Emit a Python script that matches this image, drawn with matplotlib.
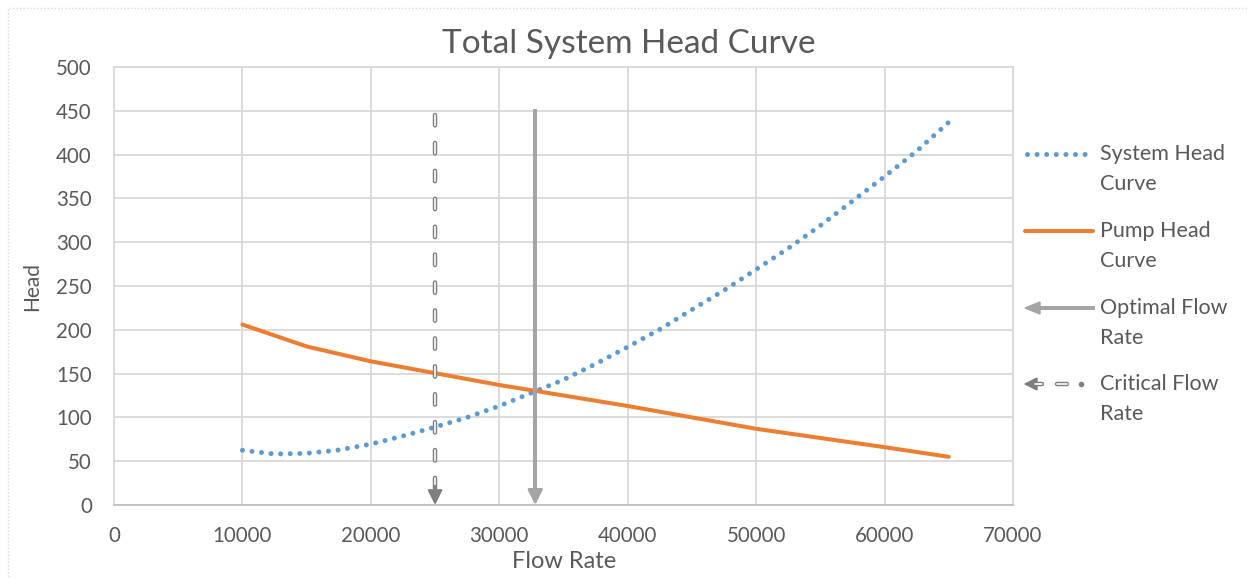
import matplotlib
matplotlib.use("Agg")
import matplotlib.pyplot as plt
from matplotlib.lines import Line2D
from matplotlib.patches import Rectangle, Polygon

plt.rcParams['font.family'] = ['Lato', 'DejaVu Sans']
plt.rcParams['lines.scale_dashes'] = False

# ---- data ----
sys_flow = [10000, 12500, 15000, 17500, 20000, 22500, 25000, 27500, 30000, 32500,
            35000, 37500, 40000, 42500, 45000, 47500, 50000, 52500, 55000, 57500,
            60000, 62500, 65000]
sys_head = [62.5, 58.2, 59, 62.8, 69.5, 78.8, 89, 100, 113, 128,
            143, 161, 180.5, 200.5, 223, 245, 269, 293, 319, 347,
            375, 404, 437]
pump_flow = [10000, 15000, 20000, 30000, 40000, 50000, 60000, 65000]
pump_head = [206, 181, 164, 137, 113, 87, 66, 55]
optimal_flow = 32800
optimal_top = 450
critical_flow = 25000
critical_top = 445
x_ticks = [0, 10000, 20000, 30000, 40000, 50000, 60000, 70000]
y_ticks = [0, 50, 100, 150, 200, 250, 300, 350, 400, 450, 500]
series_names = ["System Head\nCurve", "Pump Head\nCurve", "Optimal Flow\nRate", "Critical Flow\nRate"]

W, H = 1249, 579
TXT = '#595959'
GRID = '#D9D9D9'
BLUE = '#5B9BD5'
ORANGE = '#ED7D31'
GRAY = '#A5A5A5'
DGRAY = '#7F7F7F'

fig = plt.figure(figsize=(W / 100, H / 100), dpi=100)
def fx(px): return px / W
def fy(py): return 1 - py / H

ax = fig.add_axes([fx(114), fy(505), fx(1013) - fx(114), fy(67) - fy(505)])
ax.set_xlim(0, 70000)
ax.set_ylim(0, 500)
ax.set_xticks(x_ticks)
ax.set_yticks(y_ticks)
ax.grid(True, color=GRID, linewidth=1.3)
ax.set_axisbelow(True)
for s in ax.spines.values():
    s.set_color(GRID)
    s.set_linewidth(1.3)
ax.spines['bottom'].set_color('#BFBFBF')
ax.tick_params(length=0, labelsize=14.8, labelcolor=TXT)
ax.tick_params(axis='x', pad=15)
ax.tick_params(axis='y', pad=16)

# series
ax.plot(sys_flow, sys_head, color=BLUE, linewidth=3.6,
        linestyle=(0, (0.01, 6.9)), dash_capstyle='round', zorder=3)
ax.plot(pump_flow, pump_head, color=ORANGE, linewidth=2.9,
        solid_capstyle='round', solid_joinstyle='round', zorder=4)

# optimal flow arrow
ax.plot([optimal_flow, optimal_flow], [optimal_top, 12], color=GRAY, linewidth=2.9, zorder=5)
ax.annotate('', xy=(optimal_flow, 0), xytext=(optimal_flow, 25),
            arrowprops=dict(arrowstyle='-|>,head_length=0.9,head_width=0.45',
                            color=GRAY, lw=2.0, shrinkA=0, shrinkB=0), zorder=5)

# critical flow arrow (hollow dashes)
ax.plot([critical_flow, critical_flow], [critical_top, 10], color=DGRAY, linewidth=3.2,
        linestyle=(0, (7.5, 12.6)), dash_capstyle='round', zorder=5)
ax.plot([critical_flow, critical_flow], [critical_top, 10], color='white', linewidth=1.2,
        linestyle=(0, (7.5, 12.6)), dash_capstyle='round', zorder=6)
ax.annotate('', xy=(critical_flow, 0), xytext=(critical_flow, 22),
            arrowprops=dict(arrowstyle='-|>,head_length=0.9,head_width=0.45',
                            color=DGRAY, lw=1.5, shrinkA=0, shrinkB=0), zorder=6)

# titles / labels
fig.text(fx(629), fy(44), "Total System Head Curve", ha='center', va='center',
         fontsize=24, color=TXT)
fig.text(fx(564), fy(561), "Flow Rate", ha='center', va='center', fontsize=17, color=TXT)
fig.text(fx(32), fy(286), "Head", ha='center', va='center', rotation=90,
         fontsize=15, color=TXT)

# ---- legend (manual) ----
leg_y = [154, 231, 308, 384]
x0, x1 = 1025, 1093
tx = 1100
fig.add_artist(Line2D([fx(x0 + 2), fx(x1)], [fy(leg_y[0])] * 2, color=BLUE, linewidth=3.6,
                      linestyle=(0, (0.01, 6.9)), dash_capstyle='round'))
fig.add_artist(Line2D([fx(x0), fx(x1)], [fy(leg_y[1])] * 2, color=ORANGE, linewidth=2.9,
                      solid_capstyle='round'))
fig.add_artist(Line2D([fx(x0 + 10), fx(x1)], [fy(leg_y[2])] * 2, color=GRAY, linewidth=2.9))
fig.add_artist(Polygon([[fx(x0), fy(leg_y[2])], [fx(x0 + 15), fy(leg_y[2] - 6)],
                        [fx(x0 + 15), fy(leg_y[2] + 6)]], closed=True, color=GRAY))
# critical legend: arrow head, hollow dash, dot
fig.add_artist(Polygon([[fx(x0), fy(leg_y[3])], [fx(x0 + 12), fy(leg_y[3] - 6)],
                        [fx(x0 + 12), fy(leg_y[3] + 6)]], closed=True, color=DGRAY))
fig.add_artist(Line2D([fx(x0 + 10), fx(x0 + 17)], [fy(leg_y[3])] * 2, color=DGRAY, linewidth=3.2,
                      solid_capstyle='round'))
fig.add_artist(Line2D([fx(x0 + 10), fx(x0 + 17)], [fy(leg_y[3])] * 2, color='white', linewidth=1.2,
                      solid_capstyle='round'))
fig.add_artist(Line2D([fx(x0 + 32), fx(x0 + 42)], [fy(leg_y[3])] * 2, color=DGRAY, linewidth=3.2,
                      solid_capstyle='round'))
fig.add_artist(Line2D([fx(x0 + 32), fx(x0 + 42)], [fy(leg_y[3])] * 2, color='white', linewidth=1.2,
                      solid_capstyle='round'))
fig.add_artist(Line2D([fx(x0 + 56)], [fy(leg_y[3])], color=DGRAY, marker='o', markersize=3,
                      linestyle='none'))
for name, yy in zip(series_names, leg_y):
    fig.text(fx(tx), fy(yy - 10), name, ha='left', va='top', fontsize=15.5, color=TXT,
             linespacing=1.6)

# dotted chart-area border
fig.add_artist(Rectangle((fx(8), fy(H + 10)), fx(W + 10) - fx(8), fy(8) - fy(H + 10),
                         fill=False, edgecolor=GRID, linewidth=1.0, linestyle=(0, (1, 1.5)),
                         transform=fig.transFigure))

fig.savefig("out.png", dpi=100)
